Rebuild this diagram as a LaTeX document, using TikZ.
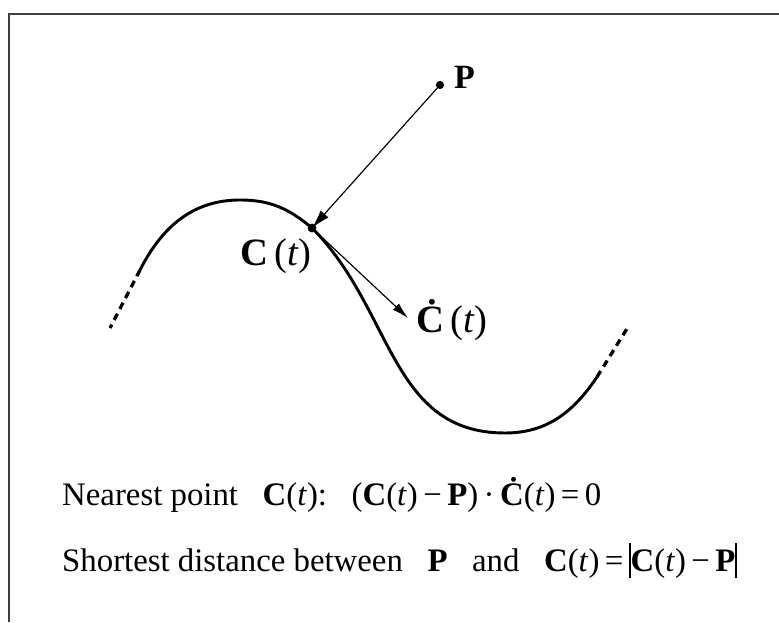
\documentclass[tikz,border=0pt]{standalone}
\usepackage{fontspec}
\setmainfont{Liberation Serif}
\usetikzlibrary{arrows.meta}

\newcommand{\vC}{\textbf{C}}
\newcommand{\vP}{\textbf{P}}
\newcommand{\tpar}{(\textit{t})}
\newcommand{\absbar}{\rule[-0.2em]{0.055em}{1.05em}}

\begin{document}
\begin{tikzpicture}[x=0.3mm, y=0.3mm]
    \useasboundingbox (0,0) rectangle (779,622);
    % frame (cut off at the right and bottom)
    \draw[line width=1pt, black!75] (9,0) -- (9,608) -- (779,608);

    % points on the curve
    \coordinate (A0) at (110,294);
    \coordinate (A) at (140,352);
    \coordinate (B) at (240,422);
    \coordinate (C) at (312,394);
    \coordinate (E) at (505,189);
    \coordinate (F) at (597,245);
    \coordinate (F0) at (628,295);
    \coordinate (P) at (440,537);
    \coordinate (T) at (408,304);

    \draw[line width=2.5pt] (A) to[out=63,in=180] (B) to[out=0,in=140] (C)
        to[out=-45,in=180,looseness=1.05] (E) to[out=0,in=236] (F);
    \draw[line width=2.8pt, dash pattern=on 6pt off 4.5pt] (A) -- (A0);
    \draw[line width=2.8pt, dash pattern=on 6pt off 4.5pt] (F) -- (F0);

    \draw[line width=1pt, -{Latex[length=16pt,width=9pt]}] (P) -- (C);
    \draw[line width=1pt, -{Latex[length=14pt,width=7.5pt]}] (C) -- (T);
    \fill (P) circle (3.5pt);
    \fill (C) circle (3.8pt);

    \node[font=\fontsize{29}{31}\selectfont, anchor=west] (Plabel) at (450,545) {\vP};
    \node[font=\fontsize{33}{35}\selectfont] (Clabel) at (276,366) {\vC\,\tpar};
    \node[font=\fontsize{33}{35}\selectfont, anchor=west] (Tlabel) at (412,302) {\textbf{Ċ}\,\tpar};

    \node[font=\fontsize{28}{30}\selectfont, anchor=base west, inner sep=0pt] (nearest) at (62,116)
        {Nearest point\enspace\ \vC\tpar:\enspace\ (\vC\tpar\,−\,\vP)\,·\,\textbf{Ċ}\tpar\,=\,0};
    \node[font=\fontsize{28}{30}\selectfont, anchor=base west, inner sep=0pt] (shortest) at (62,51)
        {Shortest distance between\enspace\ \vP\enspace\ and\enspace\ \vC\tpar\,=\,\absbar\vC\tpar\,−\,\vP\absbar};
\end{tikzpicture}
\end{document}
